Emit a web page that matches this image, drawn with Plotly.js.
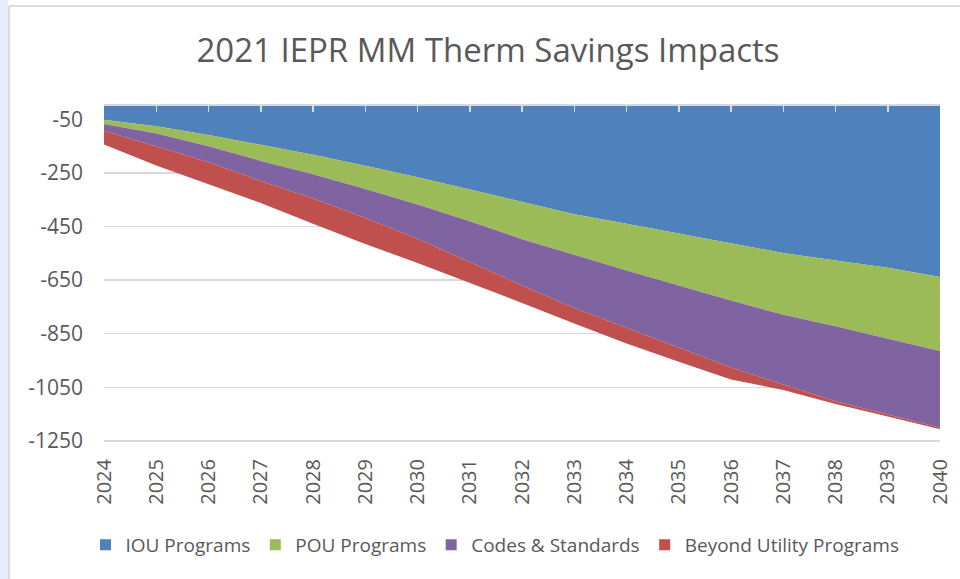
<!DOCTYPE html>
<html>
<head>
<meta charset="utf-8">
<script src="https://cdn.plot.ly/plotly-3.0.1.min.js"></script>
<style>
  html, body { margin: 0; padding: 0; background: #ffffff; }
  #chart { width: 960px; height: 579px; }
</style>
</head>
<body>
<div id="chart"></div>
<script>
// ---- data ----
const years = [2024, 2025, 2026, 2027, 2028, 2029, 2030, 2031, 2032, 2033, 2034, 2035, 2036, 2037, 2038, 2039, 2040];
const yearLabels = ["2024", "2025", "2026", "2027", "2028", "2029", "2030", "2031", "2032", "2033", "2034", "2035", "2036", "2037", "2038", "2039", "2040"];
const seriesNames = ["IOU Programs", "POU Programs", "Codes & Standards", "Beyond Utility Programs"];
const iouPrograms = [-51, -76, -108, -145, -182, -223, -266, -312, -357, -404, -440, -477, -514, -549, -577, -604, -638];
const pouPrograms = [-16, -27, -42, -60, -73, -87, -102, -118, -140, -152, -174, -193, -212, -230, -245, -265, -277];
const codesStandards = [-25, -48, -60, -75, -90, -108, -128, -152, -173, -198, -214, -230, -250, -261, -280, -283, -286];
const beyondUtility = [-52, -71, -82, -82, -95, -97, -90, -78, -65, -58, -59, -55, -45, -20, -10, -7, -6];
const yTickVals = [-50, -250, -450, -650, -850, -1050, -1250];
const yTickText = ["-50", "-250", "-450", "-650", "-850", "-1050", "-1250"];
const chartTitle = "2021 IEPR MM Therm Savings Impacts";

// ---- styling ----
const colors = ["#4f81bd", "#9bbb59", "#8064a2", "#c0504d"];
const allSeries = [iouPrograms, pouPrograms, codesStandards, beyondUtility];
const textColor = "#595959";
const gridColor = "#d9d9d9";
const font = "'Open Sans', 'DejaVu Sans', sans-serif";

// plot area geometry in pixels (for paper-coordinate decorations)
const W = 960, H = 579;
const mL = 104, mR = 20, mT = 106, mB = 136;
const pw = W - mL - mR, ph = H - mT - mB;
const px = v => (v - mL) / pw;
const py = v => (H - mB - v) / ph;

const traces = [];
allSeries.forEach((vals, i) => {
  traces.push({
    type: "scatter", mode: "lines", x: years, y: vals, name: seriesNames[i],
    stackgroup: "one", line: { width: 0, color: colors[i] }, fillcolor: colors[i],
    showlegend: false, hoverinfo: "x+y+name"
  });
});
allSeries.forEach((vals, i) => {
  traces.push({
    type: "scatter", mode: "markers", x: [null], y: [null], name: seriesNames[i],
    marker: { symbol: "square", size: 11, color: colors[i] },
    showlegend: true, xaxis: i === 0 ? "x2" : "x"
  });
});

const layout = {
  width: W, height: H,
  paper_bgcolor: "#ffffff", plot_bgcolor: "#ffffff",
  margin: { l: mL, r: mR, t: mT, b: mB, pad: 0, autoexpand: false },
  font: { family: font, color: textColor },
  title: {
    text: chartTitle, font: { family: font, size: 33, color: textColor },
    x: 488 / W, xanchor: "center", y: 1 - 50 / H, yanchor: "middle", xref: "container", yref: "container"
  },
  xaxis: {
    type: "linear", range: [2024, 2040], tickvals: years, ticktext: yearLabels,
    tickangle: -90, tickfont: { family: font, size: 20, color: textColor },
    showgrid: false, zeroline: false, showline: false, ticks: "", ticklabelstandoff: 11,
    fixedrange: true
  },
  xaxis2: {
    type: "linear", range: [2024, 2040], overlaying: "x", side: "top", anchor: "y",
    tickvals: years, showticklabels: false, ticks: "inside", ticklen: 6, tickwidth: 1.5,
    tickcolor: gridColor, showline: true, linecolor: gridColor, linewidth: 2,
    showgrid: false, zeroline: false, fixedrange: true
  },
  yaxis: {
    range: [-1258, 0], tickvals: yTickVals, ticktext: yTickText,
    tickfont: { family: font, size: 21, color: textColor },
    showgrid: true, gridcolor: gridColor, gridwidth: 1.5,
    zeroline: false, showline: false, ticks: "", ticklabelstandoff: 20, fixedrange: true
  },
  legend: {
    orientation: "h", traceorder: "normal",
    xref: "container", yref: "container",
    x: 495 / W, xanchor: "center", y: 1 - 545 / H, yanchor: "middle",
    font: { family: font, size: 19, color: textColor }, itemwidth: 30,
    tracegroupgap: 0, bgcolor: "rgba(0,0,0,0)"
  },
  shapes: [
    { type: "rect", xref: "paper", yref: "paper", x0: px(0), x1: px(8), y0: py(H), y1: py(0),
      fillcolor: "#e4eef8", line: { width: 0 }, layer: "below" },
    { type: "line", xref: "paper", yref: "paper", x0: px(9), x1: px(9), y0: py(H), y1: py(6),
      line: { color: "#d0d0d0", width: 1.5 } },
    { type: "line", xref: "paper", yref: "paper", x0: px(9), x1: px(W), y0: py(6), y1: py(6),
      line: { color: "#d0d0d0", width: 1.5 } }
  ],
  showlegend: true
};

Plotly.newPlot("chart", traces, layout, { displayModeBar: false, staticPlot: true });
</script>
</body>
</html>
